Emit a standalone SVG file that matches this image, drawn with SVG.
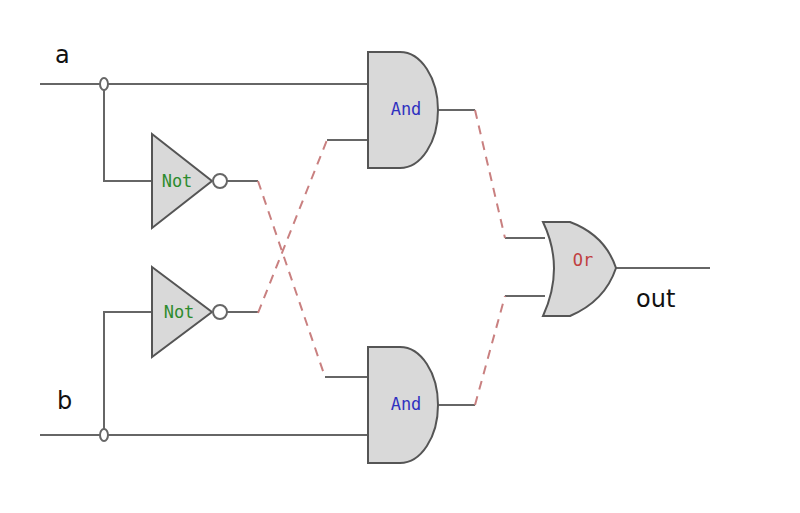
<svg xmlns="http://www.w3.org/2000/svg" width="800" height="513" viewBox="0 0 800 513">
<style>
.w{stroke:#666;stroke-width:2;fill:none}
.d{stroke:#c98080;stroke-width:2;fill:none;stroke-dasharray:9,7}
.g{fill:#d9d9d9;stroke:#555;stroke-width:2}
.j{fill:#fff;stroke:#666;stroke-width:2}
.lbl{font-family:"DejaVu Sans Mono",monospace;font-size:17px}
.io{font-family:"DejaVu Sans",sans-serif;font-size:24px;fill:#111}
</style>
<rect width="800" height="513" fill="#fff"/>
<g id="connectors">
<path class="w" d="M40,84 H368 M104,84 V181 H152 M40,435 H368 M104,435 V312 H152"/>
<path class="w" d="M227,181 H258 M227,312 H258 M327,140 H368 M325,377 H368"/>
<path class="d" d="M258,181 L325,377 M258,313 L327,140"/>
<path class="w" d="M438,110 H475 M438,405 H475 M505,238 H545 M505,296 H545 M616,268 H710"/>
<path class="d" d="M475,110 L505,238 M475,405 L505,296"/>
</g>
<g id="ja"><ellipse class="j" cx="104" cy="84" rx="4" ry="6"/></g>
<g id="jb"><ellipse class="j" cx="104" cy="435" rx="4" ry="6"/></g>
<g id="a"><text class="io" x="55" y="63">a</text></g>
<g id="b"><text class="io" x="57" y="409">b</text></g>
<g id="not1"><path class="g" d="M152,134 L212,181 L152,228 Z"/><circle class="j" cx="220" cy="181" r="7" fill="#ddd"/><text class="lbl" x="177" y="187" text-anchor="middle" fill="#2e8b2e">Not</text></g>
<g id="not2"><path class="g" d="M152,267 L212,312 L152,357 Z"/><circle class="j" cx="220" cy="312" r="7" fill="#ddd"/><text class="lbl" x="179" y="318" text-anchor="middle" fill="#2e8b2e">Not</text></g>
<g id="and1"><path class="g" d="M368,52 H400 A38,58 0 0 1 400,168 H368 Z"/><text class="lbl" x="406" y="115" text-anchor="middle" fill="#3030c0">And</text></g>
<g id="and2"><path class="g" d="M368,347 H400 A38,58 0 0 1 400,463 H368 Z"/><text class="lbl" x="406" y="410" text-anchor="middle" fill="#3030c0">And</text></g>
<g id="or"><path class="g" d="M543,222 H570 Q605,235 616,268 Q605,301 570,316 H543 Q565,268 543,222 Z"/><text class="lbl" x="583" y="266" text-anchor="middle" fill="#c04040">Or</text></g>
<g id="out"><text class="io" x="636" y="307">out</text></g>
</svg>
